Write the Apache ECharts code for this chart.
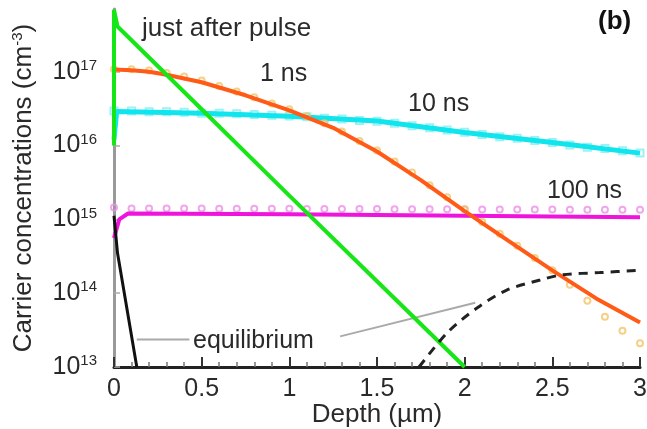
<!DOCTYPE html>
<html>
<head>
<meta charset="utf-8">
<script src="https://cdn.jsdelivr.net/npm/echarts@6/dist/echarts.min.js"></script>
<style>
  html, body { margin: 0; padding: 0; background: #fff; }
  #main { width: 647px; height: 429px; }
</style>
</head>
<body>
<div id="main"></div>
<script>
// depth in µm, concentrations in cm^-3
var pulseDepth = [0, 0, 0.02, 0.5, 1.0, 1.5, 2.0];
var pulseConc  = [1.0e16, 6.9e17, 4.1e17, 3.1e16, 2.1e15, 1.45e14, 1.0e13];

var ns1Depth = [0, 0.1, 0.2, 0.3, 0.5, 0.75, 1.0, 1.25, 1.5, 1.75, 2.0, 2.25, 2.5, 2.75, 3.0];
var ns1Conc  = [1.07e17, 1.05e17, 1.0e17, 9.1e16, 7.2e16, 4.8e16, 3.0e16, 1.74e16, 8.3e15, 3.4e15, 1.29e15, 5.1e14, 2.04e14, 8.5e13, 4.0e13];

var ns10Depth = [0, 0.015, 0.5, 1.0, 1.5, 2.0, 2.5, 3.0];
var ns10Conc  = [1.2e16, 2.9e16, 2.75e16, 2.5e16, 2.15e16, 1.5e16, 1.1e16, 7.9e15];

var ns100Depth = [0, 0.03, 0.08, 1.0, 2.0, 3.0];
var ns100Conc  = [5.6e14, 1.0e15, 1.2e15, 1.17e15, 1.12e15, 1.07e15];

var eqSurfDepth = [0, 0.02, 0.13];
var eqSurfConc  = [1.12e15, 3.5e14, 1.0e13];

var eqBackDepth = [1.74, 1.9, 2.07, 2.24, 2.43, 2.56, 2.77, 3.0];
var eqBackConc  = [1.0e13, 2.9e13, 6.3e13, 1.1e14, 1.51e14, 1.78e14, 1.9e14, 2.04e14];

// symbols (second data set), every 0.1 µm
var markDepth = [0, 0.1, 0.2, 0.3, 0.4, 0.5, 0.6, 0.7, 0.8, 0.9, 1.0, 1.1, 1.2, 1.3, 1.4, 1.5,
                 1.6, 1.7, 1.8, 1.9, 2.0, 2.1, 2.2, 2.3, 2.4, 2.5, 2.6, 2.7, 2.8, 2.9, 3.0];
var ns1Mark = [1.08e17, 1.08e17, 1.04e17, 9.6e16, 8.6e16, 7.6e16, 6.4e16, 5.4e16, 4.5e16, 3.7e16, 3.1e16,
               2.5e16, 2.0e16, 1.55e16, 1.15e16, 8.6e15, 6.1e15, 4.3e15, 2.9e15, 2.0e15, 1.36e15,
               9.2e14, 6.4e14, 4.4e14, 3.0e14, 2.05e14, 1.3e14, 7.9e13, 4.8e13, 3.1e13, 2.1e13];
var ns10Mark = [2.95e16, 2.95e16, 2.88e16, 2.88e16, 2.82e16, 2.75e16, 2.75e16, 2.69e16, 2.63e16, 2.57e16, 2.51e16,
                2.45e16, 2.34e16, 2.29e16, 2.19e16, 2.14e16, 2.0e16, 1.86e16, 1.74e16, 1.62e16, 1.51e16,
                1.41e16, 1.32e16, 1.26e16, 1.17e16, 1.10e16, 1.02e16, 9.5e15, 9.1e15, 8.5e15, 7.9e15];
var ns100Mark = [1.45e15, 1.4e15, 1.4e15, 1.4e15, 1.4e15, 1.4e15, 1.39e15, 1.39e15, 1.39e15, 1.39e15, 1.39e15,
                 1.38e15, 1.38e15, 1.38e15, 1.38e15, 1.38e15, 1.37e15, 1.37e15, 1.37e15, 1.37e15, 1.37e15,
                 1.36e15, 1.36e15, 1.36e15, 1.36e15, 1.36e15, 1.35e15, 1.35e15, 1.35e15, 1.35e15, 1.35e15];

// leader lines for the "equilibrium" label
var leadLeftDepth  = [0.13, 0.43];
var leadLeftConc   = [2.35e13, 2.35e13];
var leadRightDepth = [1.29, 2.06];
var leadRightConc  = [2.6e13, 7.4e13];

var yTicks = [13, 14, 15, 16, 17];

function pts(xs, ys) {
    return xs.map(function (x, i) { return [x, Math.log10(ys[i])]; });
}

var font = "'Liberation Sans', Arial, sans-serif";
var txt = '#2a2a2a';

var myChart = echarts.init(document.getElementById('main'));
var option = {
    backgroundColor: '#fff',
    animation: false,
    grid: { left: 114, right: 7, top: 9, bottom: 62, outerBoundsMode: 'none', containLabel: false },
    xAxis: {
        type: 'value',
        min: 0, max: 3, interval: 0.5,
        name: 'Depth (µm)',
        nameLocation: 'middle',
        nameGap: 35,
        nameMoveOverlap: false,
        nameTextStyle: { fontFamily: font, fontSize: 26, color: txt },
        axisLine: { lineStyle: { color: '#222', width: 3 } },
        axisTick: { inside: true, length: 10, lineStyle: { color: '#333', width: 2 } },
        minorTick: { show: true, splitNumber: 5, length: 5, lineStyle: { color: '#777', width: 1.5 } },
        axisLabel: { fontFamily: font, fontSize: 25, color: txt, margin: 10 },
        splitLine: { show: false }
    },
    yAxis: {
        type: 'value',
        min: 13, max: 17.85, interval: 1,
        name: 'Carrier concentrations (cm{s|-3})',
        nameLocation: 'middle',
        nameGap: 77,
        nameTextStyle: {
            fontFamily: font, fontSize: 26, color: txt,
            rich: { s: { fontFamily: font, fontSize: 15, color: txt, padding: [0, 0, 12, 0] } }
        },
        axisLine: { lineStyle: { color: '#999', width: 3 } },
        axisTick: { inside: true, length: 6, lineStyle: { color: '#aaa', width: 1.5 } },
        axisLabel: {
            margin: 17,
            showMaxLabel: false,
            formatter: function (v) {
                if (yTicks.indexOf(Math.round(v * 1000) / 1000) < 0) return '';
                return '{b|10}{s|' + v + '}';
            },
            rich: {
                b: { fontFamily: font, fontSize: 25, color: txt },
                s: { fontFamily: font, fontSize: 15, color: txt, padding: [0, 0, 12, 0] }
            }
        },
        splitLine: { show: false }
    },
    series: [
        {
            type: 'scatter', data: pts(markDepth, ns100Mark), symbol: 'circle', symbolSize: 6,
            itemStyle: { color: 'transparent', borderColor: '#ec90e6', borderWidth: 2 }, z: 2
        },
        {
            type: 'line', data: pts(ns100Depth, ns100Conc), showSymbol: false,
            lineStyle: { color: '#ee14dc', width: 4 }, z: 3
        },
        {
            type: 'scatter', data: pts(markDepth, ns10Mark), symbol: 'rect', symbolSize: 7,
            itemStyle: { color: 'transparent', borderColor: '#7ff0f4', borderWidth: 2 }, z: 3
        },
        {
            type: 'line', data: pts(ns10Depth, ns10Conc), showSymbol: false,
            lineStyle: { color: '#10e4ec', width: 5 }, z: 4
        },
        {
            type: 'scatter', data: pts(markDepth, ns1Mark), symbol: 'circle', symbolSize: 6,
            itemStyle: { color: 'transparent', borderColor: '#f2c466', borderWidth: 2 }, z: 4
        },
        {
            type: 'line', data: pts(ns1Depth, ns1Conc), showSymbol: false,
            lineStyle: { color: '#ff5a16', width: 4 }, z: 5
        },
        {
            type: 'line', data: pts(pulseDepth, pulseConc), showSymbol: false,
            lineStyle: { color: '#16e616', width: 4 }, z: 6
        },
        {
            type: 'line', data: pts(eqSurfDepth, eqSurfConc), showSymbol: false,
            lineStyle: { color: '#111', width: 3 }, z: 7
        },
        {
            type: 'line', data: pts(eqBackDepth, eqBackConc), showSymbol: false, smooth: 0.3,
            lineStyle: { color: '#222', width: 3, type: [9, 7] }, z: 7
        },
        {
            type: 'line', data: pts(leadLeftDepth, leadLeftConc), showSymbol: false,
            lineStyle: { color: '#aaa', width: 2 }, z: 5
        },
        {
            type: 'line', data: pts(leadRightDepth, leadRightConc), showSymbol: false,
            lineStyle: { color: '#aaa', width: 2 }, z: 5
        }
    ],
    graphic: [
        { type: 'text', left: 142, top: 16, z: 10,
          style: { text: 'just after pulse', font: '26px ' + font, fill: txt } },
        { type: 'text', left: 260, top: 62, z: 10,
          style: { text: '1 ns', font: '25px ' + font, fill: txt } },
        { type: 'text', left: 408, top: 92, z: 10,
          style: { text: '10 ns', font: '25px ' + font, fill: txt } },
        { type: 'text', left: 547, top: 179, z: 10,
          style: { text: '100 ns', font: '25px ' + font, fill: txt } },
        { type: 'text', left: 193, top: 329, z: 10,
          style: { text: 'equilibrium', font: '25px ' + font, fill: txt } },
        { type: 'text', left: 598, top: 9, z: 10,
          style: { text: '(b)', font: 'bold 26px ' + font, fill: '#111' } }
    ]
};
myChart.setOption(option);
</script>
</body>
</html>
